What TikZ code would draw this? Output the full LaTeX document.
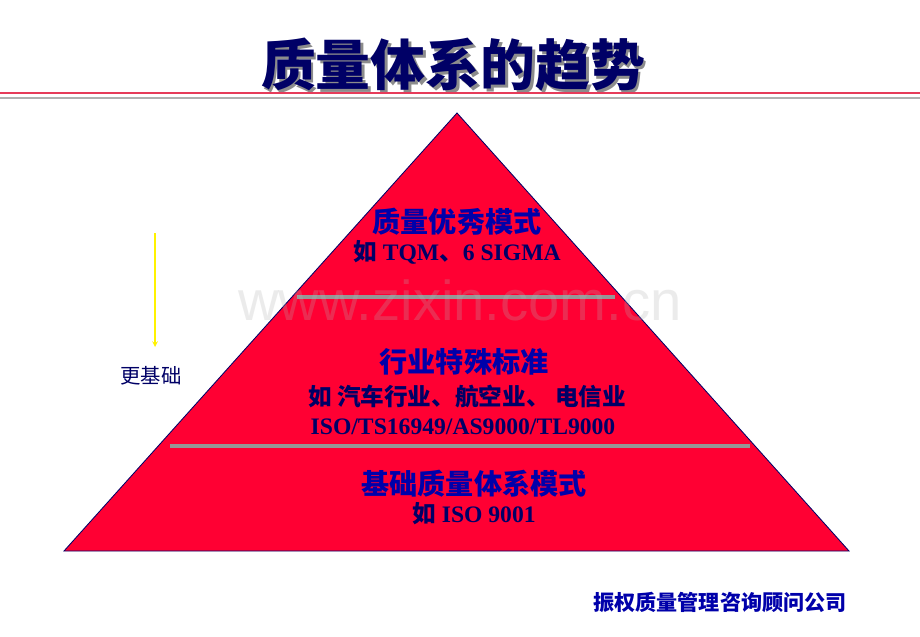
\documentclass[tikz,border=0pt]{standalone}
\usepackage{fontspec}
\setmainfont{Liberation Serif}
\newfontfamily\cjk{Noto Sans CJK SC}
\newfontfamily\wmfont{Liberation Sans}
\usetikzlibrary{arrows,positioning}

\definecolor{titleblue}{RGB}{0,0,102}
\definecolor{headblue}{RGB}{0,0,170}
\definecolor{subblue}{RGB}{0,0,102}
\definecolor{pyrred}{RGB}{255,0,51}
\definecolor{bargray}{RGB}{150,150,150}
\definecolor{rulered}{RGB}{230,60,90}
\definecolor{rulegray}{RGB}{176,176,176}

\newcommand{\shadowed}[1]{\makebox[0pt][l]{\hspace{2pt}\raisebox{-2pt}{\color{black!45}#1}}#1}

\begin{document}
\begin{tikzpicture}[
    x=0.025cm, y=-0.025cm,
    head/.style={font=\cjk\bfseries\fontsize{20}{22}\selectfont, text=headblue, inner sep=0pt},
    sub/.style={font=\bfseries\fontsize{16.8}{18}\selectfont, text=subblue, inner sep=0pt},
    bar/.style={draw=bargray, line width=3.5pt},
    arrow/.style={->,>=stealth,yellow,line width=0.8pt}
]
\useasboundingbox[fill=white] (0,0) rectangle (920,637);

% Title
\node[font=\cjk\bfseries\fontsize{39}{40}\selectfont, text=titleblue, inner sep=0pt] (title) at (453,66) {\shadowed{质量体系的趋势}};
\draw[rulered, line width=1.4pt] (0,93) -- (920,93);
\draw[rulegray, line width=1.8pt] (0,98) -- (920,98);

% Pyramid
\coordinate (apex) at (457,113);
\coordinate (baseL) at (64,551);
\coordinate (baseR) at (849,551);
\draw[fill=pyrred, draw=subblue, line width=0.6pt] (apex) -- (baseR) -- (baseL) -- cycle;

% Separators
\draw[bar] (297,297) -- (615,297);
\draw[bar] (170,446) -- (750,446);

% Top tier
\node[head] (tier1) at (457,222) {质量优秀模式};
\node[sub] (tier1sub) at (457,252) {{\cjk 如} TQM{\cjk 、}6 SIGMA};

% Middle tier
\node[head] (tier2) at (464,362) {行业特殊标准};
\node[sub] (tier2sub) at (467,397) {\cjk 如 汽车行业、航空业、 电信业};
\node[sub] (tier2std) at (463,427) {ISO/TS16949/AS9000/TL9000};

% Bottom tier
\node[head] (tier3) at (474,484) {基础质量体系模式};
\node[sub] (tier3sub) at (474,514) {{\cjk 如} ISO 9001};

% Side arrow
\coordinate (arrtop) at (155,233);
\coordinate (arrend) at (155,347);
\draw[arrow] (arrtop) -- (arrend);
\node[font=\cjk\fontsize{14.5}{16}\selectfont, text=subblue, inner sep=0pt] (basic) at (151,376) {更基础};

% Watermark
\node[font=\wmfont\fontsize{40}{42}\selectfont, text=gray!60, text opacity=0.25, inner sep=0pt] (wm) at (460,300) {www.zixin.com.cn};

% Footer
\node[font=\cjk\bfseries\fontsize{15}{16}\selectfont, text=headblue, inner sep=0pt] (footer) at (720,602) {振权质量管理咨询顾问公司};

\end{tikzpicture}
\end{document}
